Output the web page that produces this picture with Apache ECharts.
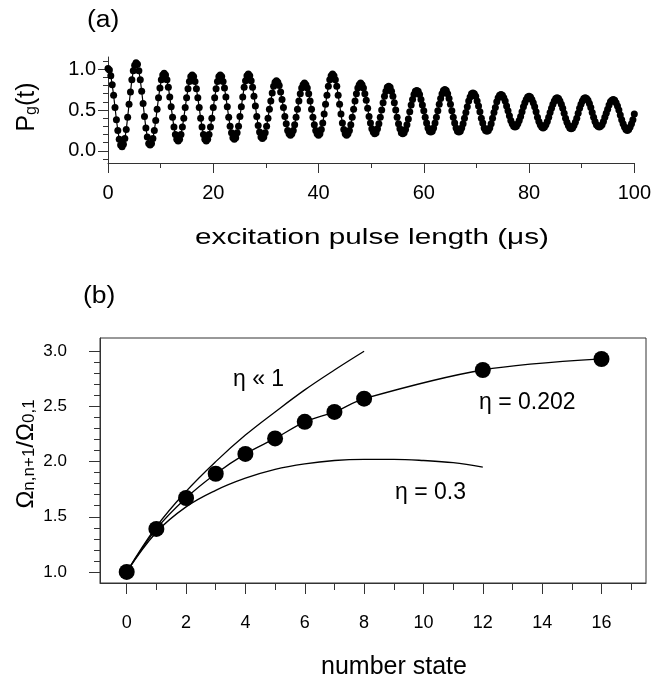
<!DOCTYPE html>
<html><head><meta charset="utf-8">
<script src="https://cdn.jsdelivr.net/npm/echarts@6/dist/echarts.min.js"></script>
<style>html,body{margin:0;padding:0;background:#fff}#c{width:654px;height:681px}</style>
</head><body><div id="c"></div>
<script>
// ---------- panel (a): P_g(t) vs excitation pulse length (µs), samples evenly spaced over 0..100 µs
const pulseSpanUs = 100;
const pulseSignal = [
1.01,0.99,0.92,0.81,0.68,0.53,0.38,0.25,0.14,0.07,
0.05,0.08,0.15,0.26,0.41,0.57,0.72,0.87,0.98,1.05,
1.08,1.06,0.98,0.87,0.73,0.58,0.42,0.28,0.17,0.09,
0.07,0.09,0.15,0.25,0.37,0.51,0.65,0.77,0.87,0.93,
0.95,0.93,0.87,0.78,0.66,0.54,0.41,0.29,0.20,0.14,
0.12,0.14,0.20,0.29,0.40,0.53,0.65,0.76,0.85,0.91,
0.93,0.91,0.85,0.76,0.65,0.53,0.40,0.29,0.20,0.14,
0.12,0.14,0.20,0.29,0.40,0.53,0.65,0.76,0.85,0.91,
0.93,0.91,0.85,0.77,0.66,0.54,0.41,0.30,0.22,0.16,
0.14,0.16,0.22,0.30,0.42,0.54,0.66,0.78,0.86,0.92,
0.94,0.92,0.86,0.78,0.67,0.55,0.42,0.31,0.23,0.17,
0.15,0.17,0.22,0.30,0.40,0.51,0.61,0.71,0.79,0.84,
0.86,0.84,0.80,0.72,0.63,0.53,0.42,0.33,0.25,0.21,
0.19,0.21,0.25,0.32,0.41,0.51,0.61,0.70,0.77,0.81,
0.83,0.81,0.77,0.70,0.61,0.51,0.41,0.32,0.25,0.21,
0.19,0.21,0.26,0.34,0.45,0.57,0.68,0.79,0.87,0.92,
0.94,0.92,0.87,0.79,0.68,0.57,0.45,0.34,0.26,0.21,
0.19,0.21,0.25,0.32,0.41,0.51,0.61,0.70,0.77,0.81,
0.83,0.81,0.77,0.70,0.62,0.52,0.42,0.34,0.27,0.23,
0.21,0.22,0.27,0.33,0.41,0.50,0.59,0.67,0.73,0.78,
0.79,0.78,0.73,0.67,0.59,0.50,0.41,0.33,0.27,0.22,
0.21,0.22,0.26,0.32,0.39,0.48,0.56,0.63,0.69,0.73,
0.74,0.73,0.69,0.63,0.56,0.49,0.41,0.34,0.28,0.24,
0.23,0.24,0.28,0.34,0.41,0.49,0.57,0.64,0.70,0.74,
0.75,0.74,0.70,0.64,0.57,0.49,0.41,0.34,0.28,0.24,
0.23,0.24,0.28,0.33,0.40,0.47,0.54,0.61,0.66,0.70,
0.71,0.70,0.67,0.61,0.55,0.48,0.40,0.34,0.28,0.25,
0.24,0.25,0.28,0.33,0.40,0.47,0.53,0.60,0.65,0.68,
0.69,0.68,0.65,0.61,0.55,0.49,0.43,0.37,0.33,0.30,
0.29,0.30,0.33,0.37,0.42,0.48,0.54,0.59,0.63,0.66,
0.67,0.66,0.63,0.59,0.54,0.48,0.41,0.36,0.32,0.29,
0.28,0.29,0.32,0.36,0.41,0.47,0.52,0.57,0.61,0.64,
0.65,0.64,0.61,0.57,0.52,0.46,0.40,0.35,0.31,0.28,
0.27,0.28,0.31,0.35,0.40,0.46,0.52,0.57,0.61,0.64,
0.65,0.64,0.62,0.58,0.53,0.47,0.41,0.36,0.32,0.30,
0.29,0.30,0.32,0.36,0.41,0.46,0.51,0.56,0.60,0.62,
0.63,0.62,0.59,0.55,0.50,0.44,0.38,0.33,0.29,0.26,
0.25,0.26,0.29,0.33,0.38,0.45
];
const aYMajorTicks = [0, 0.5, 1.0];
const aYMinorTicks = [-0.1, 0.1, 0.2, 0.3, 0.4, 0.6, 0.7, 0.8, 0.9, 1.1];

// ---------- panel (b): Rabi-frequency ratio vs number state
const nMeasured = [0, 1, 2, 3, 4, 5, 6, 7, 8, 12, 16];
const ratioMeasured = [1.00, 1.39, 1.67, 1.89, 2.07, 2.21, 2.36, 2.45, 2.57, 2.83, 2.93];
const nLambDicke = [0, 1, 2, 3, 4, 5, 6, 7, 8];
const ratioLambDicke = [1.00, 1.41, 1.73, 2.00, 2.24, 2.45, 2.65, 2.83, 3.00];
const nEta03 = [0, 1, 2, 3, 4, 5, 6, 7, 8, 9, 10, 11, 12];
const ratioEta03 = [1.00, 1.36, 1.59, 1.74, 1.85, 1.93, 1.98, 2.01, 2.02, 2.02, 2.01, 1.99, 1.95];
const bXMajorTicks = [0, 2, 4, 6, 8, 10, 12, 14, 16];
const bXMinorTicks = [1, 3, 5, 7, 9, 11, 13, 15, 17];
const bYMajorTicks = [1.0, 1.5, 2.0, 2.5, 3.0];
const bYMinorTicks = [1.1, 1.2, 1.3, 1.4, 1.6, 1.7, 1.8, 1.9, 2.1, 2.2, 2.3, 2.4, 2.6, 2.7, 2.8, 2.9];

const pair = (xs, ys) => xs.map((x, i) => [x, ys[i]]);
const pulseData = pulseSignal.map((v, i) => [i * pulseSpanUs / (pulseSignal.length - 1), v]);

const AX = '#333';
const fontA = '"Liberation Sans", Arial, sans-serif';
const fmt1 = v => Number(v).toFixed(1);

const chart = echarts.init(document.getElementById('c'), null, {renderer: 'canvas'});
chart.setOption({
  animation: false,
  backgroundColor: '#fff',
  grid: [
    {left: 108, right: 17, top: 57, height: 106, show: false},
    {left: 100, right: 8, top: 338, height: 245, show: true, borderColor: AX, borderWidth: 1}
  ],
  xAxis: [
    {gridIndex: 0, type: 'value', min: 0, max: 100, interval: 20, position: 'bottom',
     axisLine: {show: true, onZero: false, lineStyle: {color: AX, width: 1}},
     axisTick: {show: true, length: 10, lineStyle: {color: AX}},
     minorTick: {show: true, splitNumber: 2, length: 5, lineStyle: {color: AX}},
     axisLabel: {margin: 20, color: '#000', fontSize: 20, fontFamily: fontA},
     splitLine: {show: false}},
    {gridIndex: 1, type: 'value', min: -0.9, max: 17.5, position: 'bottom',
     axisLine: {show: true, onZero: false, lineStyle: {color: AX, width: 1}},
     axisTick: {show: true, length: 11, customValues: bXMajorTicks, lineStyle: {color: AX}},
     axisLabel: {margin: 31, customValues: bXMajorTicks, color: '#000', fontSize: 18, fontFamily: fontA},
     splitLine: {show: false}},
    {gridIndex: 1, type: 'value', min: -0.9, max: 17.5, position: 'bottom', offset: 0,
     axisLine: {show: false, onZero: false},
     axisTick: {show: true, length: 7, customValues: bXMinorTicks, lineStyle: {color: AX}},
     axisLabel: {show: false}, splitLine: {show: false}}
  ],
  yAxis: [
    {gridIndex: 0, type: 'value', min: -0.15, max: 1.15, position: 'left',
     axisLine: {show: true, onZero: false, lineStyle: {color: AX, width: 1}},
     axisTick: {show: true, length: 10, customValues: aYMajorTicks, lineStyle: {color: AX}},
     axisLabel: {margin: 12, customValues: aYMajorTicks, formatter: fmt1, color: '#000', fontSize: 20, fontFamily: fontA},
     splitLine: {show: false}},
    {gridIndex: 0, type: 'value', min: -0.15, max: 1.15, position: 'left', offset: 0,
     axisLine: {show: false, onZero: false},
     axisTick: {show: true, length: 5, customValues: aYMinorTicks, lineStyle: {color: AX}},
     axisLabel: {show: false}, splitLine: {show: false}},
    {gridIndex: 1, type: 'value', min: 0.9, max: 3.12, position: 'left',
     axisLine: {show: true, onZero: false, lineStyle: {color: AX, width: 1}},
     axisTick: {show: true, length: 11, customValues: bYMajorTicks, lineStyle: {color: AX}},
     axisLabel: {margin: 33, customValues: bYMajorTicks, formatter: fmt1, color: '#000', fontSize: 17, fontFamily: fontA},
     splitLine: {show: false}},
    {gridIndex: 1, type: 'value', min: 0.9, max: 3.12, position: 'left', offset: 0,
     axisLine: {show: false, onZero: false},
     axisTick: {show: true, length: 6, customValues: bYMinorTicks, lineStyle: {color: AX}},
     axisLabel: {show: false}, splitLine: {show: false}}
  ],
  series: [
    {type: 'line', xAxisIndex: 0, yAxisIndex: 0, data: pulseData,
     symbol: 'circle', symbolSize: 7, showSymbol: true,
     itemStyle: {color: '#000'}, lineStyle: {color: '#000', width: 1.2}},
    {type: 'line', xAxisIndex: 1, yAxisIndex: 2, data: pair(nLambDicke, ratioLambDicke),
     smooth: 0.4, showSymbol: false, lineStyle: {color: '#000', width: 1.3}},
    {type: 'line', xAxisIndex: 1, yAxisIndex: 2, data: pair(nEta03, ratioEta03),
     smooth: 0.4, showSymbol: false, lineStyle: {color: '#000', width: 1.3}},
    {type: 'line', xAxisIndex: 1, yAxisIndex: 2, data: pair(nMeasured, ratioMeasured),
     smooth: 0.3, symbol: 'circle', symbolSize: 16, showSymbol: true,
     itemStyle: {color: '#000'}, lineStyle: {color: '#000', width: 1.3}}
  ],
  graphic: [
    {type: 'text', x: 87, y: 21, scaleX: 1.15,
     style: {text: '(a)', font: '23px ' + fontA, fill: '#000', textAlign: 'left', textVerticalAlign: 'middle'}},
    {type: 'text', x: 25, y: 107, rotation: Math.PI / 2,
     style: {text: '{m|P}{s|g}{m|(t)}', fill: '#000', textAlign: 'center', textVerticalAlign: 'middle',
       rich: {m: {fontSize: 25, fontFamily: fontA, fill: '#000', verticalAlign: 'bottom', lineHeight: 30},
              s: {fontSize: 16, fontFamily: fontA, fill: '#000', verticalAlign: 'bottom', lineHeight: 24}}}},
    {type: 'text', x: 372, y: 238, scaleX: 1.35,
     style: {text: 'excitation pulse length (\u03bcs)', font: '22px ' + fontA, fill: '#000', textAlign: 'center', textVerticalAlign: 'middle'}},
    {type: 'text', x: 83, y: 297, scaleX: 1.15,
     style: {text: '(b)', font: '23px ' + fontA, fill: '#000', textAlign: 'left', textVerticalAlign: 'middle'}},
    {type: 'text', x: 24, y: 454, rotation: Math.PI / 2,
     style: {text: '{m|\u03a9}{s|n,n+1}{m|/\u03a9}{s|0,1}', fill: '#000', textAlign: 'center', textVerticalAlign: 'middle',
       rich: {m: {fontSize: 24, fontFamily: fontA, fill: '#000', verticalAlign: 'bottom', lineHeight: 28},
              s: {fontSize: 17, fontFamily: fontA, fill: '#000', verticalAlign: 'bottom', lineHeight: 24}}}},
    {type: 'text', x: 233, y: 380,
     style: {text: '\u03b7 \u00ab 1', font: '23px ' + fontA, fill: '#000', textAlign: 'left', textVerticalAlign: 'middle'}},
    {type: 'text', x: 479, y: 403,
     style: {text: '\u03b7 = 0.202', font: '23px ' + fontA, fill: '#000', textAlign: 'left', textVerticalAlign: 'middle'}},
    {type: 'text', x: 395, y: 493,
     style: {text: '\u03b7 = 0.3', font: '23px ' + fontA, fill: '#000', textAlign: 'left', textVerticalAlign: 'middle'}},
    {type: 'text', x: 394, y: 667,
     style: {text: 'number state', font: '25px ' + fontA, fill: '#000', textAlign: 'center', textVerticalAlign: 'middle'}}
  ]
});
</script></body></html>
